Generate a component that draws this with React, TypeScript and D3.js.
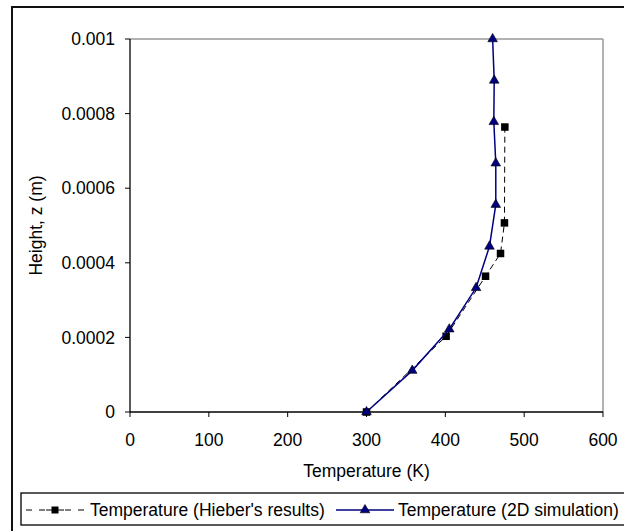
import React from "react";
import * as d3 from "d3";

// Hieber's results (squares, dashed)
const hieberTemp = [300, 401, 451, 470, 475, 475.5];
const hieberHeight = [0, 0.000203, 0.000364, 0.000425, 0.000507, 0.000764];

// 2D simulation (triangles, solid navy)
const simTemp = [300, 358, 405, 439, 456, 464, 464, 461.5, 462, 460];
const simHeight = [0, 0.000111, 0.000222, 0.000333, 0.000444, 0.000556, 0.000667, 0.000778, 0.000889, 0.001];

const xTicks = [0, 100, 200, 300, 400, 500, 600];
const yTicks = [0, 0.0002, 0.0004, 0.0006, 0.0008, 0.001];
const yTickLabels = ["0", "0.0002", "0.0004", "0.0006", "0.0008", "0.001"];

const W = 624;
const H = 531;
const margin = { left: 130, top: 39, right: 21, bottom: 119 };
const font = "'Liberation Sans', Arial, sans-serif";
const fs = 17.5;

export default function App() {
  const plotW = W - margin.left - margin.right;
  const plotH = H - margin.top - margin.bottom;

  const x = d3.scaleLinear().domain([0, 600]).range([0, plotW]);
  const y = d3.scaleLinear().domain([0, 0.001]).range([plotH, 0]);

  const hieber = hieberTemp.map((t, i) => [t, hieberHeight[i]] as [number, number]);
  const sim = simTemp.map((t, i) => [t, simHeight[i]] as [number, number]);

  const line = d3
    .line<[number, number]>()
    .x(d => x(d[0]))
    .y(d => y(d[1]));

  const tri = d3.symbol().type(d3.symbolTriangle).size(40)() as string;
  const sq = 7.5;

  return (
    <svg
      width={W}
      height={H}
      style={{ position: "absolute", left: 0, top: 0 }}
      fontFamily={font}
    >
      <rect x={0} y={0} width={W} height={H} fill="white" />
      {/* outer chart frame */}
      <rect x={12} y={7} width={W} height={H} fill="none" stroke="#111" strokeWidth={2} />

      <g transform={`translate(${margin.left},${margin.top})`}>
        {/* plot area border: gray top/right */}
        <line x1={0} x2={plotW} y1={0} y2={0} stroke="#999" strokeWidth={1.5} />
        <line x1={plotW} x2={plotW} y1={0} y2={plotH} stroke="#999" strokeWidth={1.5} />

        {/* axes */}
        <line x1={0} x2={plotW} y1={plotH} y2={plotH} stroke="#000" strokeWidth={1.3} />
        <line x1={0} x2={0} y1={0} y2={plotH} stroke="#000" strokeWidth={1.3} />

        {xTicks.map(t => (
          <g key={t} transform={`translate(${x(t)},${plotH})`}>
            <line y1={0} y2={5} stroke="#000" />
            <text y={34} textAnchor="middle" fontSize={fs}>
              {t}
            </text>
          </g>
        ))}
        {yTicks.map((t, i) => (
          <g key={t} transform={`translate(0,${y(t)})`}>
            <line x1={-5} x2={0} stroke="#000" />
            <text x={-15} dy="0.35em" textAnchor="end" fontSize={fs}>
              {yTickLabels[i]}
            </text>
          </g>
        ))}

        {/* Hieber's results */}
        <path d={line(hieber) || ""} fill="none" stroke="#000" strokeWidth={1} strokeDasharray="6,4" />
        {hieber.map((d, i) => (
          <rect key={i} x={x(d[0]) - sq / 2} y={y(d[1]) - sq / 2} width={sq} height={sq} fill="#000" />
        ))}

        {/* 2D simulation */}
        <path d={line(sim) || ""} fill="none" stroke="#000080" strokeWidth={1.5} />
        {sim.map((d, i) => (
          <path
            key={i}
            d={tri}
            transform={`translate(${x(d[0])},${y(d[1])})`}
            fill="#000080"
            stroke="#000"
            strokeWidth={0.6}
          />
        ))}
      </g>

      {/* axis titles */}
      <text x={margin.left + x(300)} y={477} textAnchor="middle" fontSize={fs}>
        Temperature (K)
      </text>
      <text
        transform={`translate(42,${margin.top + plotH / 2}) rotate(-90)`}
        textAnchor="middle"
        fontSize={fs}
      >
        Height, z (m)
      </text>

      {/* legend */}
      <rect x={21} y={493} width={W} height={32} fill="white" stroke="#000" strokeWidth={1.3} />
      <g transform="translate(0,510)">
        <line x1={26} x2={86} y1={0} y2={0} stroke="#000" strokeDasharray="6,7" />
        <line x1={46} x2={64} y1={0} y2={0} stroke="#000" />
        <rect x={55 - 3.5} y={-3.5} width={7} height={7} fill="#000" />
        <text x={90} dy="0.35em" fontSize={fs}>
          Temperature (Hieber's results)
        </text>
        <line x1={336} x2={394} y1={0} y2={0} stroke="#000080" strokeWidth={1.5} />
        <path d={tri} transform="translate(365,0)" fill="#000080" stroke="#000" strokeWidth={0.6} />
        <text x={398} dy="0.35em" fontSize={fs}>
          Temperature (2D simulation)
        </text>
      </g>
    </svg>
  );
}
